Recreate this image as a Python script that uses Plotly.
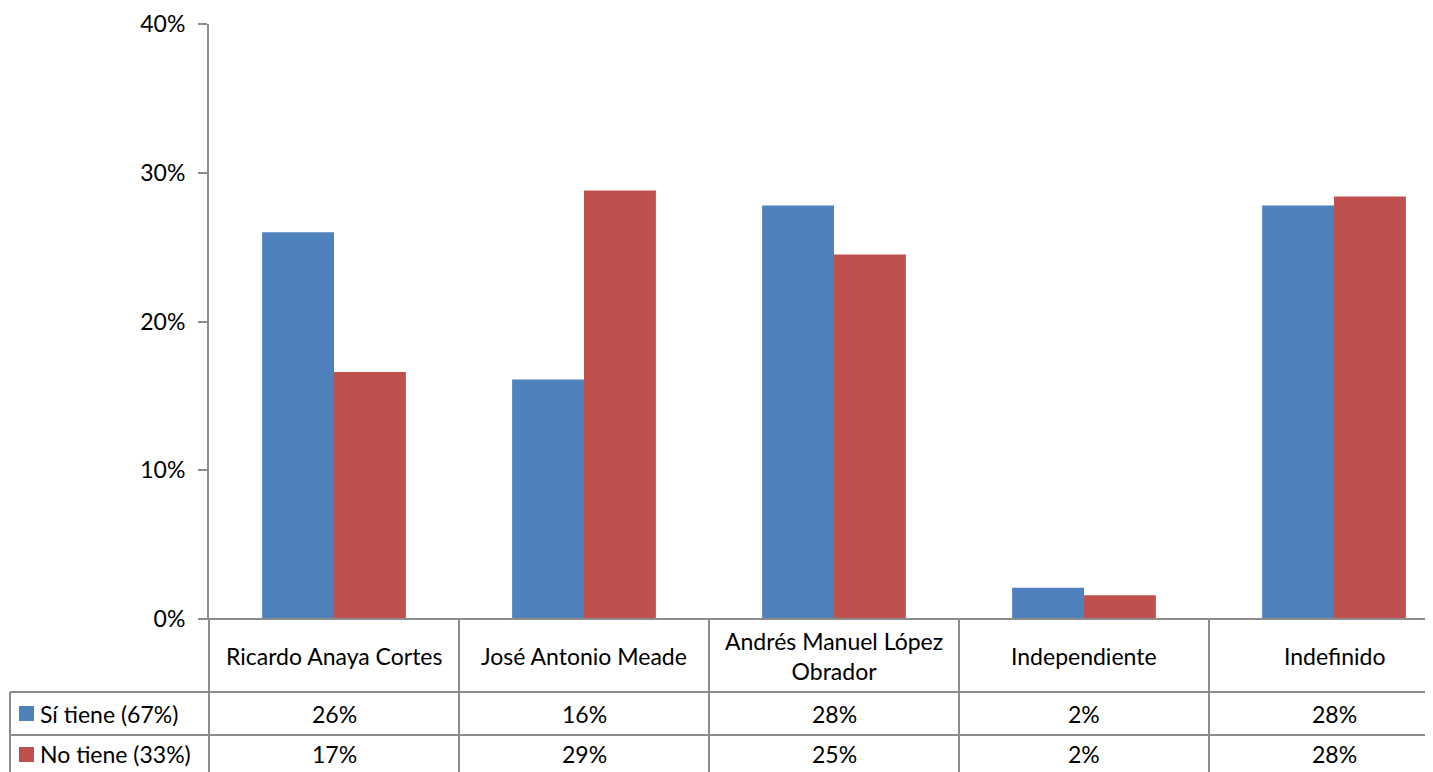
import plotly.graph_objects as go

categories = ["Ricardo Anaya Cortes", "José Antonio Meade", "Andrés Manuel López<br>Obrador", "Independiente", "Indefinido"]
series_names = ["Sí tiene (67%)", "No tiene (33%)"]
si_tiene = [0.260, 0.161, 0.278, 0.021, 0.278]
no_tiene = [0.166, 0.288, 0.245, 0.016, 0.284]
si_labels = ["26%", "16%", "28%", "2%", "28%"]
no_labels = ["17%", "29%", "25%", "2%", "28%"]
colors = ["#4F81BD", "#C0504D"]

OFF = 8  # page body margin
W, H = 1433 - OFF, 772 - OFF
L, T = 209 - OFF, 24 - OFF
R = 0
B = H - (619 - OFF)
PW, PH = W - L - R, H - T - B

def px(x):
    return (x - OFF - L) / PW

def py(y):
    return (619 - y) / PH

FONT = "Lato"
FS = 23
GRID = "#8C8C8C"

fig = go.Figure()
xs = list(range(len(categories)))
fig.add_trace(go.Bar(x=xs, y=si_tiene, name=series_names[0], marker_color=colors[0], marker_line_width=0))
fig.add_trace(go.Bar(x=xs, y=no_tiene, name=series_names[1], marker_color=colors[1], marker_line_width=0))

span = PW / 250.0
fig.update_layout(
    width=W, height=H,
    margin=dict(l=L, r=R, t=T, b=B, pad=0),
    paper_bgcolor="white", plot_bgcolor="white",
    barmode="group", bargap=0.425, bargroupgap=0,
    showlegend=False,
    font=dict(family=FONT, size=FS, color="black"),
    xaxis=dict(range=[-0.5, -0.5 + span], showticklabels=False, showgrid=False, zeroline=False,
               showline=False, ticks=""),
    yaxis=dict(range=[0, 0.4], tickvals=[0, 0.1, 0.2, 0.3, 0.4], tickformat=".0%",
               showgrid=False, zeroline=False, showline=True, linecolor=GRID, linewidth=2,
               ticks="outside", ticklen=9, tickcolor=GRID, tickwidth=2, ticklabelstandoff=8,
               tickfont=dict(family=FONT, size=FS, color="black")),
)

shapes = []
line = dict(color=GRID, width=2)
shapes.append(dict(type="line", xref="paper", yref="paper", x0=px(200), x1=1, y0=py(619), y1=py(619), line=line))
shapes.append(dict(type="line", xref="paper", yref="paper", x0=px(10), x1=1, y0=py(692), y1=py(692), line=line))
shapes.append(dict(type="line", xref="paper", yref="paper", x0=px(10), x1=1, y0=py(735), y1=py(735), line=line))
shapes.append(dict(type="line", xref="paper", yref="paper", x0=px(10), x1=px(10), y0=py(692), y1=py(775), line=line))
shapes.append(dict(type="line", xref="paper", yref="paper", x0=px(209), x1=px(209), y0=py(619), y1=py(775), line=line))
for i in range(len(categories) - 1):
    shapes.append(dict(type="line", xref="x", yref="paper", x0=i + 0.5, x1=i + 0.5, y0=py(619), y1=py(775), line=line))
for k, yc in enumerate([713, 754]):
    shapes.append(dict(type="rect", xref="paper", yref="paper", x0=px(19), x1=px(34), y0=py(yc + 8), y1=py(yc - 7),
                       fillcolor=colors[k], line=dict(width=0)))

annotations = []
tf = dict(family=FONT, size=FS, color="black")
for i, c in enumerate(categories):
    annotations.append(dict(x=i, y=py(656), xref="x", yref="paper", text=c, showarrow=False,
                            font=tf, xanchor="center", yanchor="middle"))
    annotations.append(dict(x=i, y=py(714), xref="x", yref="paper", text=si_labels[i], showarrow=False,
                            font=tf, xanchor="center", yanchor="middle"))
    annotations.append(dict(x=i, y=py(754), xref="x", yref="paper", text=no_labels[i], showarrow=False,
                            font=tf, xanchor="center", yanchor="middle"))
for k, yc in enumerate([714, 754]):
    annotations.append(dict(x=px(38), y=py(yc), xref="paper", yref="paper", text=series_names[k], showarrow=False,
                            font=tf, xanchor="left", yanchor="middle"))

fig.update_layout(shapes=shapes, annotations=annotations)
fig.write_html("out.html")
